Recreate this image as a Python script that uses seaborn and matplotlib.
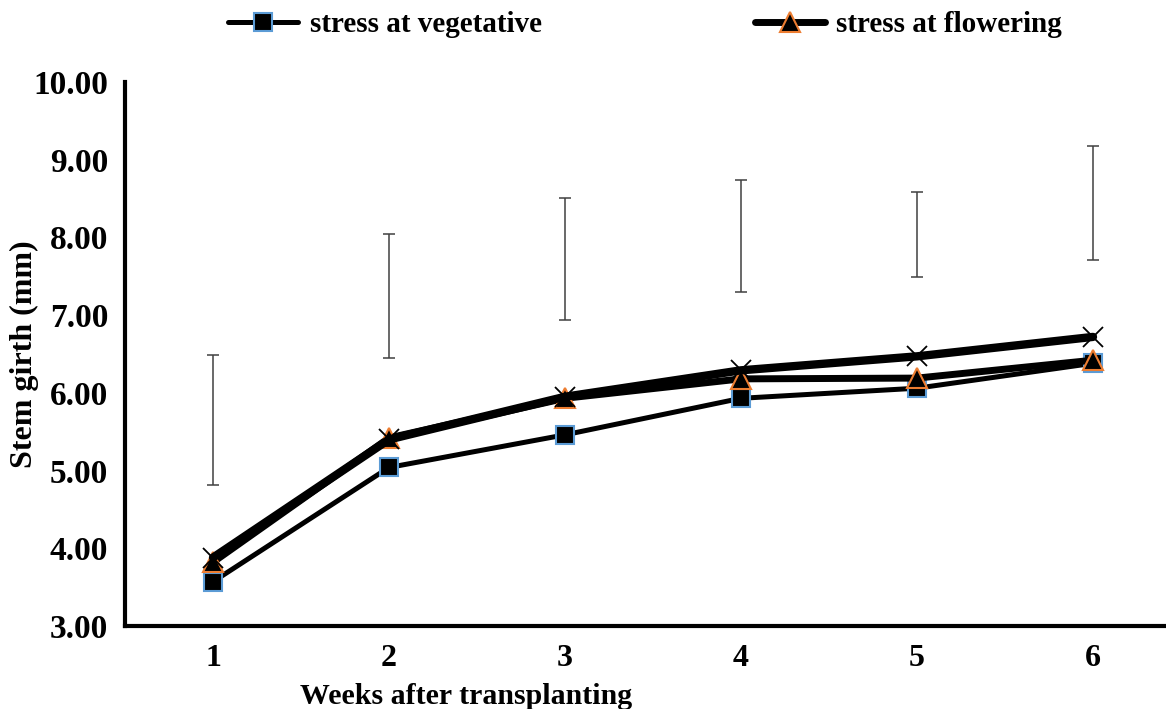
import numpy as np
import pandas as pd
import matplotlib
matplotlib.use("Agg")
import matplotlib.pyplot as plt
import seaborn as sns
from matplotlib.lines import Line2D

# ---- data ----
weeks = [1, 2, 3, 4, 5, 6]
week_labels = ["1", "2", "3", "4", "5", "6"]
veg = [3.57, 5.04, 5.46, 5.93, 6.06, 6.38]
flow = [3.82, 5.42, 5.93, 6.18, 6.19, 6.42]
control = [3.88, 5.40, 5.95, 6.29, 6.47, 6.72]
bar_low = [4.81, 6.45, 6.94, 7.30, 7.49, 7.71]
bar_high = [6.49, 8.05, 8.51, 8.74, 8.59, 9.18]
yticks = [3, 4, 5, 6, 7, 8, 9, 10]
series_names = ["stress at vegetative", "stress at flowering"]

sns.set_style("white")
plt.rcParams['font.family'] = ['Liberation Serif', 'DejaVu Serif']
plt.rcParams['font.weight'] = 'bold'
plt.rcParams['text.color'] = 'black'
plt.rcParams['axes.labelcolor'] = 'black'
plt.rcParams['xtick.color'] = 'black'
plt.rcParams['ytick.color'] = 'black'

fig = plt.figure(figsize=(11.66, 7.09), dpi=100)
W, H = 1166, 709
ax_l, ax_r, ax_t, ax_b = 125, 1181, 82, 626
ax = fig.add_axes([ax_l / W, 1 - ax_b / H, (ax_r - ax_l) / W, (ax_b - ax_t) / H])

df = pd.DataFrame({"week": weeks, "veg": veg, "flow": flow, "control": control})

# error bars (floating)
low = np.array(bar_low)
high = np.array(bar_high)
center = (low + high) / 2
half = (high - low) / 2
ax.errorbar(weeks, center, yerr=half, fmt='none', ecolor='#404040',
            elinewidth=1.1, capsize=4.5, capthick=1.1, zorder=2)

sns.lineplot(data=df, x="week", y="veg", ax=ax, color='black', lw=3.6,
             marker='s', markersize=13, markerfacecolor='black',
             markeredgecolor='#5B9BD5', markeredgewidth=1.5, zorder=3)
sns.lineplot(data=df, x="week", y="flow", ax=ax, color='black', lw=5.0,
             marker='^', markersize=15, markerfacecolor='black',
             markeredgecolor='#ED7D31', markeredgewidth=1.5, zorder=4)
sns.lineplot(data=df, x="week", y="control", ax=ax, color='black', lw=6.0,
             marker='x', markersize=15, markeredgecolor='black',
             markeredgewidth=1.3, zorder=5)

ax.set_xlim(0.5, 6.5)
ax.set_ylim(3, 10)
ax.set_xticks(weeks)
ax.set_xticklabels(week_labels)
ax.set_yticks(yticks)
ax.set_yticklabels([f"{v:.2f}" for v in yticks])
ax.tick_params(axis='both', length=0, labelsize=24, colors='black')
ax.tick_params(axis='x', pad=13, labelsize=23)
ax.tick_params(axis='y', pad=12)
for t in ax.get_xticklabels() + ax.get_yticklabels():
    t.set_fontweight('bold')

for s in ['top', 'right']:
    ax.spines[s].set_visible(False)
for s in ['left', 'bottom']:
    ax.spines[s].set_linewidth(3.0)
    ax.spines[s].set_color('black')

ax.set_xlabel("Weeks after transplanting", fontsize=21.5, fontweight='bold', color='black')
ax.set_ylabel("Stem girth (mm)", fontsize=23, fontweight='bold', color='black')
ax.xaxis.set_label_coords((466 - ax_l) / (ax_r - ax_l), (ax_b - 710) / (ax_b - ax_t))
ax.xaxis.label.set_va('bottom')
ax.yaxis.set_label_coords((24 - ax_l) / (ax_r - ax_l), (ax_b - 354) / (ax_b - ax_t))
ax.yaxis.label.set_va('center')

handles = [
    Line2D([0], [0], color='black', lw=3.6, marker='s', markersize=13,
           markerfacecolor='black', markeredgecolor='#5B9BD5', markeredgewidth=1.5),
    Line2D([0], [0], color='black', lw=5.0, marker='^', markersize=15,
           markerfacecolor='black', markeredgecolor='#ED7D31', markeredgewidth=1.5),
]
leg = fig.legend(handles, series_names, loc='center left', bbox_to_anchor=(228 / W, 1 - 25 / H),
                 ncol=2, frameon=False, prop={'weight': 'bold', 'size': 21},
                 handlelength=2.4, handletextpad=0.4, columnspacing=7.3, borderaxespad=0,
                 borderpad=0)
for t in leg.get_texts():
    t.set_color('black')

fig.savefig("out.png", dpi=100)
